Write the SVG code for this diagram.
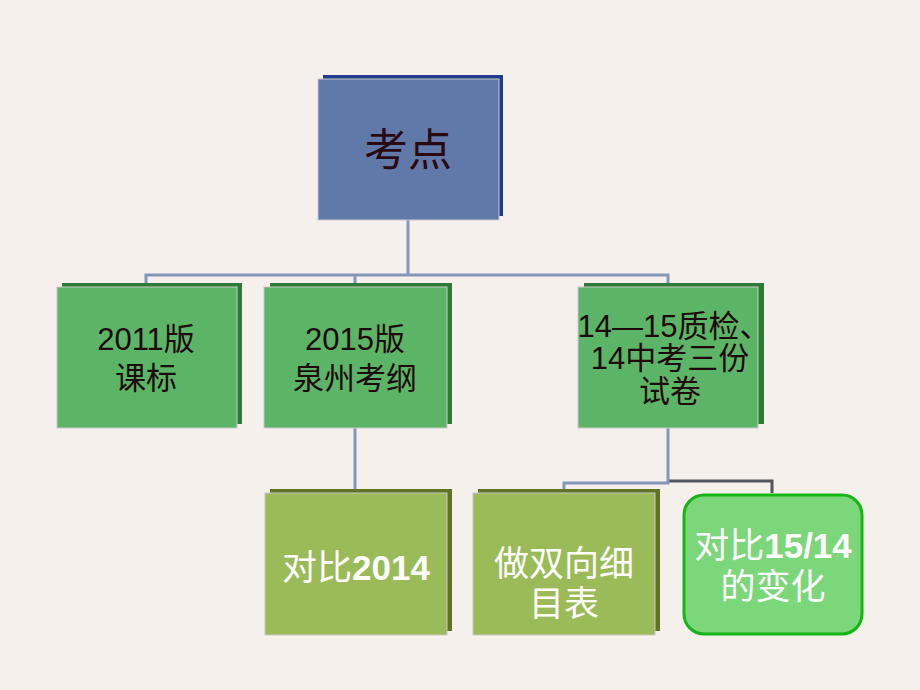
<svg xmlns="http://www.w3.org/2000/svg" width="920" height="690" viewBox="0 0 920 690">
<style>
.t{font-family:"Liberation Sans","Noto Sans CJK SC",sans-serif;text-anchor:middle}
.dk{fill:#1e0a0c;font-size:31px}
.wh{fill:#ffffff;font-size:35px}
.gs{fill:#5cb567;stroke:#c9c9c9;stroke-width:1}
.gsh{fill:#2f7a36}
.os{fill:#9bbb59;stroke:#c9c9c9;stroke-width:1}
.osh{fill:#5f7322}
.ln{fill:none;stroke:#8496b8;stroke-width:3}
</style>
<rect width="920" height="690" fill="#f5f0ec"/>
<g id="connectors">
<polyline class="ln" points="408,220 408,275"/>
<polyline class="ln" points="146,287 146,275 668,275 668,287"/>
<polyline class="ln" points="355,275 355,287"/>
<polyline class="ln" points="355,428 355,493"/>
<polyline fill="none" stroke="#50555f" stroke-width="3" points="668,481 772,481 772,493"/>
<polyline class="ln" points="668,428 668,483 564,483 564,493"/>
</g>
<g id="kaodian">
<rect x="323" y="75" width="180" height="141" fill="#1f3d8c"/>
<rect x="318" y="79" width="181" height="141" fill="#6079a9" stroke="#c9c9c9" stroke-width="1"/>
<text class="t" x="408" y="166" font-size="44" fill="#2a0a10">考点</text>
</g>
<g id="kebiao">
<rect class="gsh" x="62" y="283" width="180" height="141"/>
<rect class="gs" x="57" y="287" width="180" height="141"/>
<text class="t dk" x="146" y="350">2011版</text>
<text class="t dk" x="146" y="389">课标</text>
</g>
<g id="kaogang">
<rect class="gsh" x="270" y="283" width="182" height="141"/>
<rect class="gs" x="264" y="287" width="183" height="141"/>
<text class="t dk" x="355" y="350">2015版</text>
<text class="t dk" x="355" y="389">泉州考纲</text>
</g>
<g id="shijuan">
<rect class="gsh" x="584" y="283" width="180" height="141"/>
<rect class="gs" x="578" y="287" width="180" height="141"/>
<text class="t dk" x="674" y="337" font-size="29">14—15质检、</text>
<text class="t dk" x="670" y="369" font-size="29">14中考三份</text>
<text class="t dk" x="670" y="402" font-size="29">试卷</text>
</g>
<g id="duibi2014">
<rect class="osh" x="270" y="489" width="182" height="142"/>
<rect class="os" x="265" y="493" width="182" height="142"/>
<text class="t wh" x="356" y="580"><tspan>对比</tspan><tspan font-weight="bold">2014</tspan></text>
</g>
<g id="xibiao">
<rect class="osh" x="478" y="489" width="182" height="142"/>
<rect class="os" x="473" y="493" width="182" height="142"/>
<text class="t wh" x="564" y="576">做双向细</text>
<text class="t wh" x="564" y="616">目表</text>
</g>
<g id="bianhua">
<rect x="684" y="495" width="178" height="139" rx="20" fill="#7cd67a" stroke="#16b516" stroke-width="3"/>
<text class="t wh" x="773" y="558"><tspan>对比</tspan><tspan font-weight="bold">15/14</tspan></text>
<text class="t wh" x="773" y="599">的变化</text>
</g>
</svg>
